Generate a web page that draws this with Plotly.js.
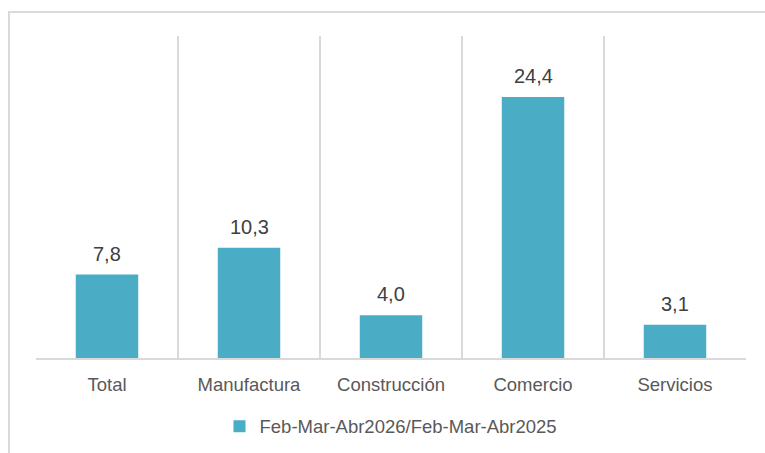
<!DOCTYPE html>
<html>
<head>
<meta charset="utf-8">
<script src="https://cdn.plot.ly/plotly-3.0.1.min.js"></script>
<style>
html, body { margin: 0; padding: 0; overflow: hidden; background: #fff; }
#frame { position: absolute; left: 8px; top: 11px; width: 800px; height: 500px; border: 2px solid #d9d9d9; pointer-events: none; }
#chart { position: absolute; left: 0; top: 0; width: 765px; height: 453px; }
</style>
</head>
<body>
<div id="chart"></div>
<div id="frame"></div>
<script>
const categories = ["Total", "Manufactura", "Construcción", "Comercio", "Servicios"];
const values = [7.8, 10.3, 4.0, 24.4, 3.1];
const seriesName = "Feb-Mar-Abr2026/Feb-Mar-Abr2025";

const FONT = "Liberation Sans, Arial, sans-serif";

const trace = {
  type: "bar",
  x: categories,
  y: values,
  name: seriesName,
  marker: { color: "#4BACC6" },
  showlegend: true
};

const labelAnnotations = categories.map((c, i) => ({
  x: c,
  y: values[i],
  xref: "x",
  yref: "y",
  text: values[i].toFixed(1).replace(".", ","),
  showarrow: false,
  xanchor: "center",
  yanchor: "bottom",
  yshift: 8,
  font: { family: FONT, size: 20, color: "#404040" }
}));

const layout = {
  width: 765,
  height: 453,
  margin: { l: 36, r: 19, t: 36, b: 95 },
  paper_bgcolor: "#ffffff",
  plot_bgcolor: "#ffffff",
  separators: ",.",
  bargap: 0.56,
  font: { family: FONT, size: 18.5, color: "#595959" },
  annotations: labelAnnotations,
  xaxis: {
    type: "category",
    tickson: "boundaries",
    showgrid: true,
    gridcolor: "#d9d9d9",
    gridwidth: 1.5,
    showline: true,
    linecolor: "#d9d9d9",
    linewidth: 1.5,
    ticks: "",
    ticklabelstandoff: 9,
    automargin: false,
    tickfont: { family: FONT, size: 18.5, color: "#595959" },
    fixedrange: true
  },
  yaxis: {
    range: [0, 30.1],
    visible: false,
    showgrid: false,
    zeroline: false,
    automargin: false,
    fixedrange: true
  },
  showlegend: true,
  legend: {
    orientation: "h",
    xref: "paper",
    yref: "container",
    x: 0.5,
    xanchor: "center",
    y: 0.058,
    yanchor: "middle",
    font: { family: FONT, size: 18.5, color: "#595959" }
  }
};

Plotly.newPlot("chart", [trace], layout, { displayModeBar: false, staticPlot: true });
</script>
</body>
</html>
